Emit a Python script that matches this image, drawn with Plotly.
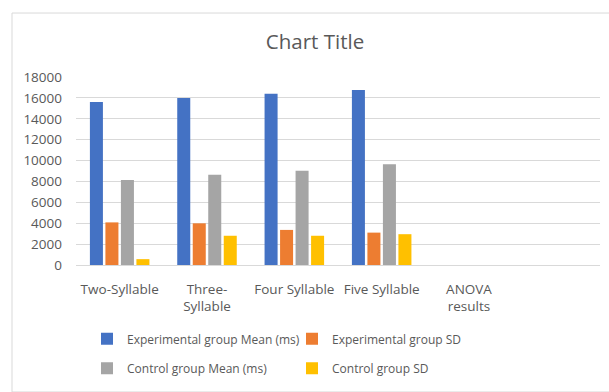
import plotly.graph_objects as go

# Categories on the x axis (the last slot is an empty spacer category)
categories = ["Two-Syllable", "Three-<br>Syllable", "Four Syllable", "Five Syllable", "ANOVA<br>results", " "]

# Series values (ms); no bars for the ANOVA column
exp_mean = [15600, 16000, 16400, 16750, None, None]
exp_sd = [4080, 3990, 3360, 3100, None, None]
ctrl_mean = [8150, 8650, 9030, 9650, None, None]
ctrl_sd = [560, 2800, 2800, 2950, None, None]

series_names = [
    "Experimental group Mean (ms)",
    "Experimental group SD",
    "Control group Mean (ms)",
    "Control group SD",
]
series_values = [exp_mean, exp_sd, ctrl_mean, ctrl_sd]
series_colors = ["#4472C4", "#ED7D31", "#A5A5A5", "#FFC000"]
legend_ids = ["legend", "legend", "legend2", "legend2"]

y_ticks = list(range(0, 18001, 2000))

FONT = "Open Sans, Liberation Sans, sans-serif"
TEXT_COLOR = "#595959"
GRID_COLOR = "#D9D9D9"

fig = go.Figure()
for name, vals, color, lg in zip(series_names, series_values, series_colors, legend_ids):
    fig.add_trace(go.Bar(
        x=categories,
        y=vals,
        name=name,
        marker=dict(color=color, line=dict(width=0)),
        legend=lg,
    ))

W, H = 609, 392
ML, MR, MT, MB = 76, 9, 77, 124
plot_w = W - ML - MR
plot_h = H - MT - MB


def px_x(px):
    return (px - ML) / plot_w


def px_y(py):
    return (H - MB - py) / plot_h


legend_common = dict(
    orientation="h",
    xanchor="left",
    yanchor="middle",
    x=px_x(87),
    entrywidth=160,
    bgcolor="rgba(0,0,0,0)",
    font=dict(family=FONT, size=12, color=TEXT_COLOR),
    itemclick=False,
)

fig.update_layout(
    width=W,
    height=H,
    margin=dict(l=ML, r=MR, t=MT, b=MB),
    paper_bgcolor="white",
    plot_bgcolor="white",
    barmode="group",
    bargap=0.29,
    bargroupgap=0.16,
    title=dict(
        text="Chart Title",
        x=px_x(315),
        xref="paper",
        xanchor="center",
        y=1 - 42 / H,
        yanchor="middle",
        font=dict(family=FONT, size=20.5, color=TEXT_COLOR),
    ),
    font=dict(family=FONT, color=TEXT_COLOR),
    legend=dict(y=px_y(343), **legend_common),
    legend2=dict(y=px_y(373), **legend_common),
    xaxis=dict(
        type="category",
        categoryorder="array",
        categoryarray=categories,
        showgrid=False,
        showline=False,
        ticks="",
        ticklabelstandoff=14,
        tickfont=dict(family=FONT, size=13.5, color=TEXT_COLOR),
        tickangle=0,
        fixedrange=True,
    ),
    yaxis=dict(
        range=[0, 18000],
        tickvals=y_ticks,
        tickformat="d",
        showgrid=True,
        gridcolor=GRID_COLOR,
        gridwidth=1,
        zeroline=True,
        zerolinecolor=GRID_COLOR,
        zerolinewidth=1,
        showline=False,
        ticks="",
        ticklabelstandoff=13,
        tickfont=dict(family=FONT, size=13.5, color=TEXT_COLOR),
        fixedrange=True,
    ),
    shapes=[
        dict(
            type="rect",
            xref="paper",
            yref="paper",
            x0=px_x(12),
            x1=px_x(W + 5),
            y0=px_y(H + 5),
            y1=px_y(12),
            line=dict(color=GRID_COLOR, width=1),
            fillcolor="rgba(0,0,0,0)",
            layer="below",
        )
    ],
)

fig.write_html("out.html", config={"displayModeBar": False})
